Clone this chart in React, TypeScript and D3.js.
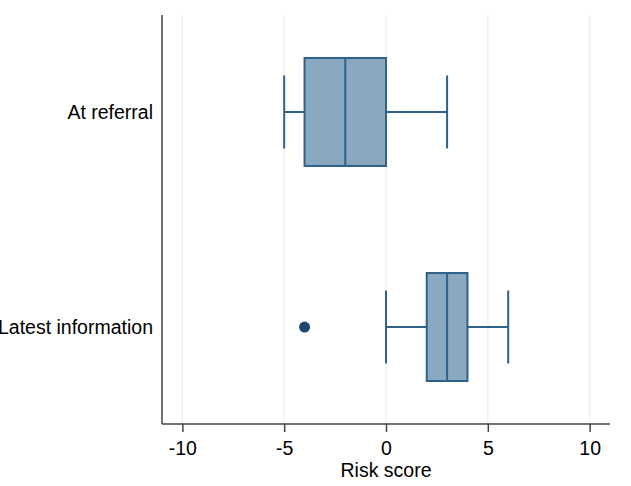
import React, { useEffect, useRef } from "react";
import * as d3 from "d3";

const categories = ["At referral", "Latest information"];
// [whisker low, q1, median, q3, whisker high]
const boxStats = [
  [-5, -4, -2, 0, 3],
  [0, 2, 3, 4, 6],
];
const outliers = [[], [-4]];
const xTicks = [-10, -5, 0, 5, 10];
const xTitle = "Risk score";

const App: React.FC = () => {
  const ref = useRef<SVGSVGElement | null>(null);
  const width = 631;
  const height = 486;

  useEffect(() => {
    if (!ref.current) return;
    const svg = d3.select(ref.current);
    svg.selectAll("*").remove();

    const left = 162, right = 610, top = 15, bottom = 424;
    const font = "'Liberation Sans', Arial, sans-serif";
    const fs = 19.5;

    const x = d3.scaleLinear().domain([-11, 11]).range([left, right]);
    const y = d3.scalePoint<string>().domain(categories).range([top, bottom]).padding(0.451);

    const boxHalf = 54;
    const capHalf = 36.5;
    const fill = "#8aa8bf";
    const stroke = "#2f6289";

    // Grid
    svg.append("g")
      .selectAll("line")
      .data(xTicks)
      .join("line")
      .attr("x1", d => x(d)).attr("x2", d => x(d))
      .attr("y1", top).attr("y2", bottom)
      .attr("stroke", "#e8f0f2")
      .attr("stroke-width", 1.2);

    // Boxes
    categories.forEach((c, i) => {
      const [lo, q1, med, q3, hi] = boxStats[i];
      const cy = y(c) as number;
      const g = svg.append("g");
      g.append("line")
        .attr("x1", x(lo)).attr("x2", x(q1)).attr("y1", cy).attr("y2", cy)
        .attr("stroke", stroke).attr("stroke-width", 2);
      g.append("line")
        .attr("x1", x(q3)).attr("x2", x(hi)).attr("y1", cy).attr("y2", cy)
        .attr("stroke", stroke).attr("stroke-width", 2);
      [lo, hi].forEach(v => {
        g.append("line")
          .attr("x1", x(v)).attr("x2", x(v))
          .attr("y1", cy - capHalf).attr("y2", cy + capHalf)
          .attr("stroke", stroke).attr("stroke-width", 2);
      });
      g.append("rect")
        .attr("x", x(q1)).attr("y", cy - boxHalf)
        .attr("width", x(q3) - x(q1)).attr("height", boxHalf * 2)
        .attr("fill", fill).attr("stroke", stroke).attr("stroke-width", 2);
      g.append("line")
        .attr("x1", x(med)).attr("x2", x(med))
        .attr("y1", cy - boxHalf).attr("y2", cy + boxHalf)
        .attr("stroke", stroke).attr("stroke-width", 2);
      outliers[i].forEach(v => {
        g.append("circle")
          .attr("cx", x(v)).attr("cy", cy).attr("r", 5.5)
          .attr("fill", "#1a476f");
      });
    });

    // X axis
    const xa = svg.append("g")
      .attr("transform", `translate(0,${bottom})`)
      .call(d3.axisBottom(x).tickValues(xTicks).tickSize(8).tickFormat(d => `${d}`));
    xa.select(".domain").attr("d", `M${left},0H${right}`).attr("stroke", "#444").attr("stroke-width", 1.5);
    xa.selectAll(".tick line").attr("stroke", "#444").attr("stroke-width", 1.5);
    xa.selectAll(".tick text")
      .attr("font-family", font).attr("font-size", fs).attr("fill", "#000").attr("dy", "1.0em");

    // Y axis
    svg.append("line")
      .attr("x1", left).attr("x2", left).attr("y1", top).attr("y2", bottom)
      .attr("stroke", "#444").attr("stroke-width", 1.5);
    svg.append("g")
      .selectAll("text")
      .data(categories)
      .join("text")
      .attr("x", 153)
      .attr("y", d => y(d) as number)
      .attr("dy", "0.35em")
      .attr("text-anchor", "end")
      .attr("font-family", font).attr("font-size", fs).attr("fill", "#000")
      .text(d => d);

    svg.append("text")
      .attr("x", x(0)).attr("y", 477)
      .attr("text-anchor", "middle")
      .attr("font-family", font).attr("font-size", fs).attr("fill", "#000")
      .text(xTitle);
  }, []);

  return (
    <svg ref={ref} width={width} height={height}
      style={{ position: "absolute", left: 0, top: 0, background: "#fff" }} />
  );
};

export default App;
